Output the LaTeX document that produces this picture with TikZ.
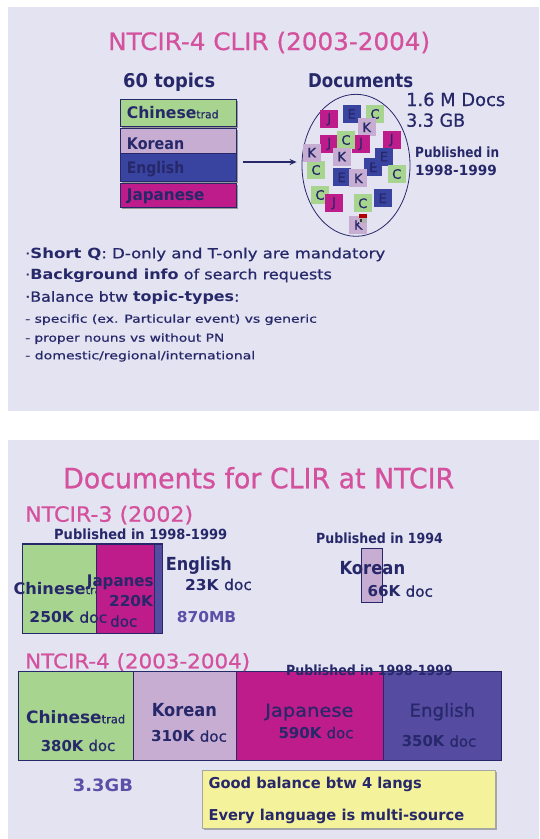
\documentclass[tikz,border=0pt]{standalone}
\usepackage{fontspec}
\setmainfont{DejaVu Sans}[UprightFeatures={FakeBold=0.7}]
\usepackage{graphicx}
\usetikzlibrary{arrows.meta,shapes.geometric,shadows}
\definecolor{bgc}{HTML}{E3E3F1}
\definecolor{pinkT}{HTML}{D4519E}
\definecolor{navy}{HTML}{27286A}
\definecolor{grn}{HTML}{A7D48F}
\definecolor{lav}{HTML}{C6ADD1}
\definecolor{blu}{HTML}{3943A0}
\definecolor{mag}{HTML}{BE1C8A}
\definecolor{blutwo}{HTML}{554BA0}
\definecolor{purpT}{HTML}{5B4FA8}
\definecolor{yel}{HTML}{F5F29C}
\newcommand\fitt[3]{\resizebox{#1pt}{\height}{\fontsize{#2}{#2}\selectfont #3}}
\tikzset{
  txt/.style={inner sep=0pt, anchor=base west, text=navy},
  tbox/.style={rectangle, draw=navy, line width=0.8pt, inner sep=0pt, minimum width=116pt,
    drop shadow={shadow xshift=1.6pt, shadow yshift=-1.6pt, fill=gray!80, opacity=1}},
  sq/.style={rectangle, inner sep=0pt, minimum size=18pt, text=navy, font=\fontsize{13}{13}\selectfont},
  dbox/.style={rectangle, draw=navy, line width=0.6pt, inner sep=0pt},
}
\begin{document}
\begin{tikzpicture}[x=1pt,y=-1pt]
\useasboundingbox (0,0) rectangle (539,839);
\fill[white] (0,0) rectangle (539,839);
\fill[bgc] (8,7) rectangle (539,411);
\fill[bgc] (8,440) rectangle (539,839);

% ---------- slide 1 ----------
\node[txt, text=pinkT] (title1) at (108,50) {\fitt{322}{24}{NTCIR-4 CLIR (2003-2004)}};
\node[txt] (topics) at (123,87) {\fitt{92}{19}{\bfseries 60 topics}};
\node[txt] (docsl) at (308,87) {\fitt{105}{19}{\bfseries Documents}};

\node[tbox, fill=grn, minimum height=27pt] (tc) at (178.7,112.5) {};
\node[tbox, fill=lav, minimum height=24.3pt] (tk) at (178.7,140.85) {};
\node[tbox, fill=blu, minimum height=28pt] (te) at (178.7,167) {};
\node[tbox, fill=mag, minimum height=24pt] (tj) at (178.7,195) {};
\node[txt] (ltc) at (126.7,118.3) {\fitt{91.6}{16}{\textbf{Chinese}{\fontsize{11}{11}\selectfont trad}}};
\node[txt] (ltk) at (126.7,149) {\fitt{57.3}{16}{\bfseries Korean}};
\node[txt] (lte) at (126.7,173.3) {\fitt{57.3}{16}{\bfseries English}};
\node[txt] (ltj) at (126.7,200) {\fitt{77.6}{16}{\bfseries Japanese}};

\node[draw=navy, line width=0.8pt, ellipse, inner sep=0pt, minimum width=108pt, minimum height=142pt] (docs) at (356,165.3) {};
\coordinate (as) at (243,162);
\draw[navy, line width=1.3pt, -{Stealth[length=7pt,width=6pt]}, shorten >=5pt] (as) -- (as -| docs.west);

\foreach \x/\y/\c/\l [count=\i] in {
 329.3/119.3/mag/J, 351.7/114/blu/E, 375/114/grn/C, 366.7/127.3/lav/K,
 329.3/144/mag/J, 361/144/mag/J, 346/140/grn/C, 391.7/140/mag/J,
 316/170/grn/C, 311.7/152.7/lav/K, 341.7/156.7/lav/K, 373.3/167.3/blu/E,
 384/156.7/blu/E, 396.7/174/grn/C, 341.7/177.3/blu/E, 358.3/178.3/lav/K,
 320/195/grn/C, 334/203.3/mag/J, 362.7/203.3/grn/C, 382.7/198.3/blu/E,
 358.3/225/lav/K}
  \node[sq, fill=\c] (s\i) at (\x,\y) {\l};
\fill[gray!60] (359,214) rectangle (367,223);
\fill[red!70!black] (359,214) rectangle (367,217.5);
\fill[black!80] (360,218.5) rectangle (362,222);

\node[txt] (m1) at (406,106) {\fitt{99}{18}{1.6 M Docs}};
\node[txt] (m2) at (406,126.7) {\fitt{59}{18}{3.3 GB}};
\node[txt] (p1) at (415,157.7) {\fitt{84}{14}{\bfseries Published in}};
\node[txt] (p2) at (415,175.7) {\fitt{81.7}{14}{\bfseries 1998-1999}};

\node[txt] (b1) at (25,258.3) {\fitt{360}{14}{·\textbf{Short Q}: D-only and T-only are mandatory}};
\node[txt] (b2) at (25,279.3) {\fitt{306.7}{14}{·\textbf{Background info} of search requests}};
\node[txt] (b3) at (25,301.7) {\fitt{214.3}{14}{·Balance btw \textbf{topic-types}:}};
\node[txt] (b4) at (25,322.7) {\fitt{291.7}{11}{- specific (ex. Particular event) vs generic}};
\node[txt] (b5) at (25,341.7) {\fitt{199}{11}{- proper nouns vs without PN}};
\node[txt] (b6) at (25,359.3) {\fitt{230}{11}{- domestic/regional/international}};

% ---------- slide 2 ----------
\node[txt, text=pinkT] (title2) at (63,488.3) {\fitt{391}{28}{Documents for CLIR at NTCIR}};
\node[txt, text=pinkT] (n3) at (25,521.7) {\fitt{168}{21}{NTCIR-3 (2002)}};
\node[txt] (p3) at (54,539.3) {\fitt{173}{14}{\bfseries Published in 1998-1999}};

\node[dbox, fill=grn, minimum width=74pt, minimum height=89pt] (g3) at (59.7,588.5) {};
\node[txt] (c3) at (13.3,594) {\fitt{95}{16}{\textbf{Chinese}{\fontsize{11}{11}\selectfont trad}}};
\node[dbox, fill=mag, minimum width=57.3pt, minimum height=89pt] (j3) at (125.35,588.5) {};
\node[txt] (c3n) at (29.3,622.7) {\fitt{77.7}{15}{\textbf{250K} doc}};
\node[txt] (j3l) at (86.7,586.7) {\fitt{77}{16}{\bfseries Japanese}};
\node[txt] (j3n) at (109,606.7) {\fitt{43.7}{15}{\bfseries 220K}};
\node[txt] (j3d) at (110,626.7) {\fitt{27}{15}{doc}};
\node[dbox, fill=blutwo, minimum width=8.3pt, minimum height=89pt] (e3) at (158.15,588.5) {};
\draw[navy, line width=0.8pt] (g3.north west) rectangle (e3.south east);
\node[txt] (e3l) at (165.7,570) {\fitt{66}{18}{\bfseries English}};
\node[txt] (e3n) at (185,590) {\fitt{66.7}{15}{\textbf{23K} doc}};
\node[txt, text=purpT] (mb) at (176.7,622.7) {\fitt{59.3}{15}{\bfseries 870MB}};

\node[txt] (p94) at (316,543.3) {\fitt{126.7}{14}{\bfseries Published in 1994}};
\node[dbox, fill=lav, minimum width=20.6pt, minimum height=54pt] (k3) at (372,575.3) {};
\node[txt] (k3l) at (339.3,574.3) {\fitt{65.7}{18}{\bfseries Korean}};
\node[txt] (k3n) at (367.3,596.7) {\fitt{65.4}{15}{\textbf{66K} doc}};

\node[txt, text=pinkT] (n4) at (25,668.3) {\fitt{225}{20}{NTCIR-4 (2003-2004)}};
\node[dbox, fill=grn, minimum width=115.3pt, minimum height=89.7pt] (g4) at (75.65,715.85) {};
\node[dbox, fill=lav, minimum width=102.7pt, minimum height=89.7pt] (k4) at (184.65,715.85) {};
\node[dbox, fill=mag, minimum width=147.3pt, minimum height=89.7pt] (j4) at (309.65,715.85) {};
\node[dbox, fill=blutwo, minimum width=118.4pt, minimum height=89.7pt] (e4) at (442.5,715.85) {};
\node[txt] (p4) at (286,675.7) {\fitt{166.7}{14}{\bfseries Published in 1998-1999}};
\node[txt] (c4l) at (26,723.3) {\fitt{99}{17}{\textbf{Chinese}{\fontsize{11.5}{11.5}\selectfont trad}}};
\node[txt] (c4n) at (40.7,751) {\fitt{74.3}{15}{\textbf{380K} doc}};
\node[txt] (k4l) at (151.7,716.7) {\fitt{65}{18}{\bfseries Korean}};
\node[txt] (k4n) at (151,741.7) {\fitt{75.7}{15}{\textbf{310K} doc}};
\node[txt] (j4l) at (265,716.7) {\fitt{88.3}{18}{Japanese}};
\node[txt] (j4n) at (278.3,738.3) {\fitt{75}{15}{\textbf{590K} doc}};
\node[txt] (e4l) at (409.3,716.7) {\fitt{65.7}{18}{English}};
\node[txt] (e4n) at (401.7,746.7) {\fitt{74.3}{15}{\textbf{350K} doc}};

\node[txt, text=purpT] (gb) at (72.7,791.7) {\fitt{60}{17}{\bfseries 3.3GB}};
\node[rectangle, draw=gray!70, line width=0.5pt, fill=yel, inner sep=0pt, minimum width=292.3pt, minimum height=58.3pt,
  drop shadow={shadow xshift=1.5pt, shadow yshift=-1.5pt, fill=gray!70, opacity=1}] (yb) at (348.85,799.15) {};
\node[txt] (y1) at (208.3,788.3) {\fitt{213.4}{15}{\bfseries Good balance btw 4 langs}};
\node[txt] (y2) at (208.3,820) {\fitt{255.7}{15}{\bfseries Every language is multi-source}};
\end{tikzpicture}
\end{document}
